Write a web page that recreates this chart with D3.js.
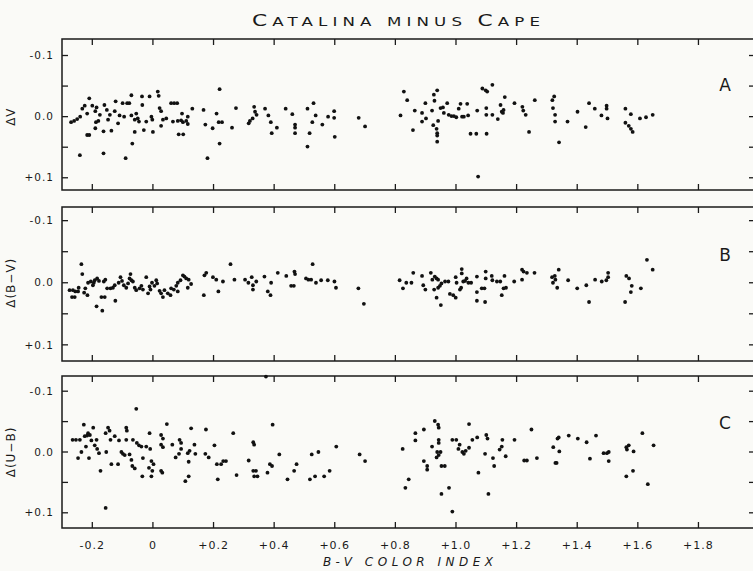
<!DOCTYPE html>
<html>
<head>
<meta charset="utf-8">
<script src="https://cdn.jsdelivr.net/npm/d3@7"></script>
<style>
  body { margin: 0; background: #fafaf7; }
  svg { display: block; }
  text { fill: #1a1a1a; font-family: "DejaVu Sans", sans-serif; }
</style>
</head>
<body>
<div id="chart"></div>
<script>
// ---------------- DATA ----------------
const xTicks = [-0.2, 0, 0.2, 0.4, 0.6, 0.8, 1.0, 1.2, 1.4, 1.6, 1.8];
const xTickLabels = ["-0.2", "0", "+0.2", "+0.4", "+0.6", "+0.8", "+1.0", "+1.2", "+1.4", "+1.6", "+1.8"];
const yTicks = [-0.1, -0.05, 0, 0.05, 0.1];
const yTickLabels = { "-0.1": "-0.1", "0": "0.0", "0.1": "+0.1" };
const panelNames = ["A", "B", "C"];
const yLabels = ["\u0394V", "\u0394(B\u2212V)", "\u0394(U\u2212B)"];
// title written as small caps: [text, big?]
const titleParts = [["C", true], ["ATALINA ", false], ["MINUS ", false], ["C", true], ["APE", false]];

// [B-V, delta]
const deltaV = [
  [-0.27,0.009],[-0.26,0.007],[-0.25,0.004],[-0.24,0.0],[-0.233,-0.013],[-0.225,-0.018],[-0.217,-0.005],[-0.21,-0.03],
  [-0.241,0.063],[-0.217,0.03],[-0.21,0.03],[-0.2,-0.018],[-0.19,-0.009],[-0.186,-0.015],[-0.188,0.009],[-0.18,0.007],
  [-0.175,-0.003],[-0.19,0.019],[-0.163,0.06],[-0.163,0.024],[-0.16,-0.019],[-0.152,-0.011],[-0.142,-0.003],[-0.137,0.023],
  [-0.148,0.005],[-0.126,-0.009],[-0.123,-0.025],[-0.115,0.011],[-0.11,-0.002],[-0.1,-0.022],[-0.09,0.068],[-0.095,0.0],
  [-0.085,-0.022],[-0.078,-0.022],[-0.071,-0.035],[-0.068,0.044],[-0.06,0.025],[-0.071,-0.002],[-0.06,0.005],[-0.05,0.003],
  [-0.046,0.008],[-0.055,-0.005],[-0.036,-0.033],[-0.035,-0.019],[-0.03,0.022],[-0.022,0.008],[-0.011,-0.033],[-0.005,0.0],
  [-0.002,0.005],[0.0,0.025],[0.016,-0.041],[0.019,-0.034],[0.022,-0.014],[0.027,-0.009],[0.027,0.015],[0.033,0.005],
  [0.044,0.003],[0.06,-0.022],[0.07,-0.022],[0.08,-0.022],[0.066,0.008],[0.082,0.007],[0.085,0.029],[0.1,0.029],
  [0.093,0.006],[0.099,0.009],[0.11,0.007],[0.115,0.012],[0.096,-0.005],[0.115,0.0],[0.13,-0.013],[0.167,-0.011],
  [0.173,0.013],[0.18,0.068],[0.197,0.019],[0.21,-0.005],[0.217,0.009],[0.22,-0.045],[0.22,0.044],[0.228,0.009],
  [0.261,0.018],[0.274,-0.014],[0.316,0.011],[0.32,0.007],[0.329,0.003],[0.334,-0.016],[0.337,-0.008],[0.342,-0.003],
  [0.37,-0.013],[0.381,-0.002],[0.389,0.009],[0.392,0.027],[0.409,0.018],[0.438,-0.013],[0.46,-0.004],[0.469,0.013],
  [0.469,0.018],[0.469,0.027],[0.51,-0.013],[0.51,0.049],[0.517,0.027],[0.526,0.009],[0.53,-0.022],[0.537,-0.002],
  [0.559,0.013],[0.578,0.0],[0.598,-0.009],[0.598,0.002],[0.6,0.033],[0.679,0.002],[0.7,0.016],
  [0.817,-0.002],[0.828,-0.041],[0.839,-0.027],[0.858,0.022],[0.864,-0.01],[0.888,-0.006],[0.888,0.008],[0.899,-0.022],
  [0.901,0.003],[0.921,-0.01],[0.925,0.014],[0.927,-0.036],[0.929,-0.026],[0.938,-0.043],[0.936,0.02],[0.938,0.027],
  [0.938,0.031],[0.938,0.041],[0.941,0.007],[0.949,-0.014],[0.957,-0.015],[0.96,-0.006],[0.971,-0.022],[0.976,-0.003],
  [0.985,-0.001],[0.993,-0.001],[1.001,0.001],[1.009,-0.013],[1.015,-0.021],[1.02,0.0],[1.026,0.0],[1.037,-0.021],
  [1.04,-0.002],[1.048,0.028],[1.067,0.028],[1.07,-0.01],[1.073,0.098],[1.087,-0.046],[1.098,-0.043],[1.103,-0.041],
  [1.1,-0.014],[1.1,-0.003],[1.101,0.028],[1.12,-0.052],[1.12,-0.003],[1.138,0.004],[1.147,-0.019],[1.151,-0.008],
  [1.155,-0.006],[1.157,-0.011],[1.161,-0.032],[1.193,-0.022],[1.219,-0.016],[1.222,-0.01],[1.23,-0.003],[1.241,0.025],
  [1.26,-0.027],[1.318,-0.027],[1.324,-0.033],[1.32,-0.014],[1.327,-0.003],[1.327,0.008],[1.34,0.042],[1.368,0.008],
  [1.401,-0.008],[1.428,0.017],[1.439,-0.022],[1.458,-0.013],[1.48,-0.002],[1.497,-0.018],[1.497,-0.013],[1.5,0.003],
  [1.559,-0.013],[1.559,0.01],[1.57,0.015],[1.577,-0.004],[1.577,0.02],[1.583,0.025],[1.607,0.003],[1.627,0.001],[1.649,-0.003]
];

const deltaBV = [
  [-0.275,0.012],[-0.264,0.012],[-0.256,0.014],[-0.247,0.014],[-0.267,0.023],[-0.258,0.023],[-0.245,0.008],[-0.236,-0.03],
  [-0.233,-0.014],[-0.227,0.016],[-0.216,0.02],[-0.223,0.009],[-0.214,0.0],[-0.205,-0.002],[-0.198,0.004],[-0.195,0.0],
  [-0.192,-0.004],[-0.184,-0.007],[-0.178,-0.003],[-0.186,0.038],[-0.17,0.023],[-0.159,0.023],[-0.167,0.045],[-0.162,-0.002],
  [-0.157,-0.005],[-0.151,0.009],[-0.14,0.009],[-0.132,0.008],[-0.124,0.029],[-0.126,0.004],[-0.113,0.0],[-0.107,-0.009],
  [-0.102,-0.003],[-0.096,0.004],[-0.088,0.008],[-0.082,0.001],[-0.077,-0.007],[-0.074,-0.014],[-0.071,-0.004],[-0.066,-0.002],
  [-0.06,0.008],[-0.055,0.012],[-0.044,0.009],[-0.038,0.005],[-0.033,0.011],[-0.022,-0.009],[-0.016,0.017],[-0.011,0.006],
  [-0.008,0.011],[-0.003,0.0],[0.005,0.005],[0.011,-0.004],[0.014,0.001],[0.022,0.013],[0.027,0.017],[0.033,0.023],
  [0.038,0.012],[0.049,0.017],[0.058,0.02],[0.06,0.009],[0.069,0.011],[0.077,0.005],[0.082,0.0],[0.082,0.014],
  [0.091,-0.004],[0.099,-0.012],[0.104,-0.01],[0.11,-0.007],[0.118,-0.005],[0.115,0.008],[0.126,0.002],[0.17,-0.012],
  [0.176,-0.016],[0.168,0.02],[0.198,-0.009],[0.209,-0.005],[0.216,0.014],[0.231,-0.002],[0.256,-0.03],[0.269,-0.005],
  [0.304,-0.005],[0.315,0.0],[0.326,-0.009],[0.33,0.004],[0.33,0.011],[0.341,-0.002],[0.368,-0.01],[0.379,0.014],
  [0.388,0.02],[0.39,0.0],[0.412,-0.016],[0.44,-0.011],[0.456,0.005],[0.465,0.005],[0.467,-0.018],[0.469,-0.014],
  [0.505,-0.007],[0.513,-0.005],[0.522,-0.005],[0.527,-0.03],[0.538,0.0],[0.555,-0.004],[0.577,-0.004],[0.599,-0.002],
  [0.604,0.008],[0.678,0.009],[0.696,0.034],
  [0.814,-0.004],[0.825,0.009],[0.836,0.0],[0.853,0.0],[0.859,-0.016],[0.888,-0.011],[0.892,0.004],[0.899,0.011],
  [0.917,-0.016],[0.922,-0.005],[0.928,0.011],[0.93,-0.01],[0.936,-0.007],[0.941,-0.005],[0.936,0.024],[0.941,0.008],
  [0.947,0.005],[0.95,0.036],[0.952,0.001],[0.964,-0.002],[0.975,-0.002],[0.98,0.018],[0.991,0.02],[0.999,0.024],
  [0.999,-0.009],[1.002,0.0],[1.017,0.008],[1.013,0.011],[1.019,-0.022],[1.019,-0.015],[1.024,-0.002],[1.03,-0.003],
  [1.035,-0.007],[1.041,0.0],[1.05,0.0],[1.069,-0.01],[1.069,0.015],[1.069,0.029],[1.085,0.009],[1.094,0.009],
  [1.098,-0.018],[1.098,-0.007],[1.096,0.031],[1.118,-0.011],[1.12,-0.004],[1.135,-0.002],[1.146,-0.002],[1.151,0.02],
  [1.157,0.009],[1.165,0.008],[1.16,-0.011],[1.192,-0.002],[1.218,-0.005],[1.218,-0.021],[1.223,-0.018],[1.234,-0.016],
  [1.259,-0.016],[1.317,-0.009],[1.32,0.0],[1.326,-0.011],[1.328,-0.005],[1.334,0.008],[1.339,-0.021],[1.37,-0.004],
  [1.4,0.009],[1.43,0.004],[1.439,0.031],[1.459,-0.005],[1.481,-0.002],[1.496,-0.004],[1.502,-0.016],[1.502,-0.009],
  [1.558,0.031],[1.562,-0.011],[1.571,-0.007],[1.577,0.015],[1.58,0.005],[1.61,0.009],[1.63,-0.037],[1.649,-0.021]
];

const deltaUB = [
  [-0.265,-0.02],[-0.254,-0.02],[-0.241,-0.02],[-0.247,0.01],[-0.236,0.0],[-0.228,-0.045],[-0.225,-0.026],[-0.217,-0.027],
  [-0.221,-0.009],[-0.214,-0.031],[-0.208,-0.028],[-0.211,0.01],[-0.203,-0.019],[-0.197,-0.04],[-0.192,-0.011],[-0.184,-0.005],
  [-0.178,0.002],[-0.186,-0.02],[-0.173,0.031],[-0.156,0.092],[-0.156,-0.031],[-0.154,0.0],[-0.148,-0.04],[-0.143,-0.035],
  [-0.14,-0.02],[-0.137,0.02],[-0.126,-0.026],[-0.115,0.02],[-0.112,-0.019],[-0.104,0.0],[-0.099,0.003],[-0.093,0.005],
  [-0.088,-0.04],[-0.086,-0.035],[-0.088,-0.02],[-0.077,0.004],[-0.071,0.013],[-0.066,-0.02],[-0.068,0.023],[-0.06,0.027],
  [-0.055,-0.071],[-0.053,-0.015],[-0.046,-0.011],[-0.038,-0.009],[-0.033,0.01],[-0.035,0.04],[-0.022,-0.009],[-0.013,0.026],
  [-0.011,-0.031],[-0.009,-0.005],[-0.005,0.015],[0.002,0.02],[-0.005,0.04],[-0.002,0.031],[0.027,-0.028],[0.033,-0.022],
  [0.027,-0.012],[0.033,-0.008],[0.027,0.031],[0.031,0.034],[0.046,-0.046],[0.064,-0.012],[0.075,0.009],[0.086,0.003],
  [0.088,-0.02],[0.093,-0.015],[0.093,-0.005],[0.107,0.048],[0.115,0.002],[0.118,0.016],[0.118,0.04],[0.121,-0.002],
  [0.126,-0.039],[0.137,-0.012],[0.14,0.003],[0.175,-0.037],[0.173,0.003],[0.184,0.009],[0.203,-0.011],[0.211,0.02],
  [0.225,0.02],[0.232,0.015],[0.241,0.015],[0.214,0.045],[0.265,-0.031],[0.276,0.038],[0.316,0.014],[0.331,-0.016],
  [0.334,-0.012],[0.331,0.031],[0.34,0.031],[0.334,0.04],[0.345,0.04],[0.373,-0.124],[0.378,0.034],[0.386,0.02],
  [0.393,0.023],[0.395,-0.045],[0.417,0.004],[0.444,0.045],[0.466,0.031],[0.474,0.02],[0.518,0.045],[0.524,0.004],
  [0.535,0.04],[0.546,0.0],[0.565,0.04],[0.583,0.031],[0.605,-0.009],[0.682,0.004],[0.7,0.015],
  [0.824,-0.005],[0.833,0.059],[0.844,0.045],[0.866,-0.031],[0.866,-0.019],[0.894,-0.037],[0.894,0.015],[0.905,0.023],
  [0.905,0.029],[0.921,-0.009],[0.93,-0.051],[0.941,-0.045],[0.943,-0.04],[0.943,-0.02],[0.943,-0.015],[0.938,0.0],
  [0.943,0.005],[0.936,0.009],[0.949,0.0],[0.952,0.069],[0.952,0.023],[0.963,0.023],[0.977,0.059],[0.988,-0.02],
  [1.001,-0.02],[0.988,0.098],[1.008,-0.005],[1.012,-0.012],[1.021,0.0],[1.026,0.003],[1.032,-0.002],[1.043,-0.007],
  [1.043,-0.046],[1.054,-0.02],[1.07,-0.024],[1.074,0.034],[1.096,0.003],[1.1,-0.028],[1.104,-0.022],[1.107,0.069],
  [1.122,0.01],[1.126,0.023],[1.144,-0.004],[1.151,-0.009],[1.153,-0.02],[1.164,0.007],[1.193,-0.02],[1.225,0.014],
  [1.234,0.014],[1.249,-0.037],[1.267,0.01],[1.321,-0.008],[1.328,0.018],[1.332,0.018],[1.335,-0.022],[1.339,-0.024],
  [1.341,-0.001],[1.372,-0.027],[1.402,-0.022],[1.431,-0.016],[1.442,0.011],[1.462,-0.027],[1.487,0.002],[1.498,0.002],
  [1.504,0.015],[1.504,0.0],[1.562,-0.008],[1.564,-0.004],[1.57,-0.011],[1.562,0.04],[1.584,0.031],[1.586,-0.001],
  [1.615,-0.031],[1.633,0.053],[1.652,-0.011]
];

const panelData = [deltaV, deltaBV, deltaUB];

// ---------------- LAYOUT ----------------
const width = 753;
const height = 571;
const left = 62;
const right = 757; // frame runs just past the right edge of the page
const panels = [
  { top: 39, bottom: 190, domain: [-0.127, 0.12] },
  { top: 207, bottom: 361, domain: [-0.122, 0.126] },
  { top: 376, bottom: 528, domain: [-0.125, 0.125] }
];
const tickLen = 6;

const svg = d3
  .select("#chart")
  .append("svg")
  .attr("width", width)
  .attr("height", height);

const x = d3.scaleLinear().domain([-0.3, 1.98]).range([left, 753]);

// title: wide lettering, so stretch it sideways
const titleStretch = 1.45;
const title = svg
  .append("text")
  .attr("transform", `translate(396,26) scale(${titleStretch},1)`)
  .attr("text-anchor", "middle")
  .attr("textLength", 288 / titleStretch)
  .attr("lengthAdjust", "spacing");
titleParts.forEach(([t, big]) => {
  title.append("tspan")
    .style("font-size", big ? "15px" : "11.5px")
    .text(t);
});

panels.forEach((p, i) => {
  const y = d3.scaleLinear().domain(p.domain).range([p.top, p.bottom]);
  const g = svg.append("g");

  g.append("rect")
    .attr("x", left)
    .attr("y", p.top)
    .attr("width", right - left)
    .attr("height", p.bottom - p.top)
    .attr("fill", "none")
    .attr("stroke", "#1a1a1a")
    .attr("stroke-width", 1.5);

  // x ticks, top and bottom, pointing in
  xTicks.forEach((t) => {
    g.append("line")
      .attr("x1", x(t)).attr("x2", x(t))
      .attr("y1", p.top).attr("y2", p.top + tickLen)
      .attr("stroke", "#1a1a1a").attr("stroke-width", 1.3);
    g.append("line")
      .attr("x1", x(t)).attr("x2", x(t))
      .attr("y1", p.bottom).attr("y2", p.bottom - tickLen)
      .attr("stroke", "#1a1a1a").attr("stroke-width", 1.3);
  });

  // y ticks, left and right
  yTicks.forEach((t) => {
    g.append("line")
      .attr("x1", left).attr("x2", left + tickLen)
      .attr("y1", y(t)).attr("y2", y(t))
      .attr("stroke", "#1a1a1a").attr("stroke-width", 1.3);
    g.append("line")
      .attr("x1", right).attr("x2", right - tickLen - 2)
      .attr("y1", y(t)).attr("y2", y(t))
      .attr("stroke", "#1a1a1a").attr("stroke-width", 1.3);
    const lab = yTickLabels[String(t)];
    if (lab) {
      g.append("text")
        .attr("x", 54)
        .attr("y", y(t))
        .attr("dy", "0.35em")
        .attr("text-anchor", "end")
        .style("font-size", "10.5px")
        .style("letter-spacing", "1px")
        .text(lab);
    }
  });

  // y label
  g.append("text")
    .attr("transform", `translate(15,${y(0)}) rotate(-90)`)
    .attr("text-anchor", "middle")
    .style("font-size", "12px")
    .style("letter-spacing", "1px")
    .text(yLabels[i]);

  // panel letter
  g.append("text")
    .attr("x", 725)
    .attr("y", (p.top + p.bottom) / 2 - 29)
    .attr("dy", "0.35em")
    .attr("text-anchor", "middle")
    .style("font-size", "17px")
    .text(panelNames[i]);

  g.selectAll("circle")
    .data(panelData[i])
    .enter()
    .append("circle")
    .attr("cx", (d) => x(d[0]))
    .attr("cy", (d) => y(d[1]))
    .attr("r", 1.9)
    .attr("fill", "#111");
});

// x tick labels under bottom panel
svg
  .selectAll(".xlab")
  .data(xTicks)
  .enter()
  .append("text")
  .attr("class", "xlab")
  .attr("x", (d) => x(d))
  .attr("y", 549)
  .attr("text-anchor", "middle")
  .style("font-size", "11px")
  .style("letter-spacing", "1px")
  .text((d, i) => xTickLabels[i]);

svg
  .append("text")
  .attr("x", 408)
  .attr("y", 566)
  .attr("text-anchor", "middle")
  .attr("textLength", 170)
  .attr("lengthAdjust", "spacing")
  .style("font-size", "12px")
  .style("font-style", "italic")
  .text("B-V COLOR INDEX");
</script>
</body>
</html>
